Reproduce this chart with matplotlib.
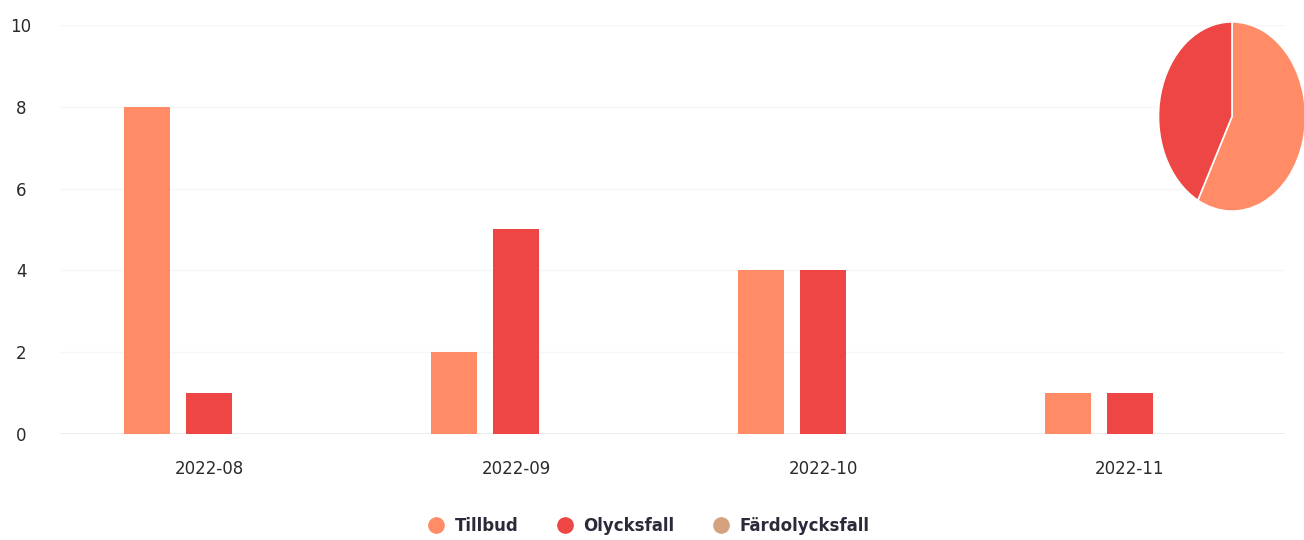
import matplotlib
matplotlib.use("Agg")
import matplotlib.pyplot as plt
import numpy as np
from matplotlib.lines import Line2D

categories = ["2022-08", "2022-09", "2022-10", "2022-11"]
series_names = ["Tillbud", "Olycksfall", "Färdolycksfall"]
tillbud = [8, 2, 4, 1]
olycksfall = [1, 5, 4, 1]
fardolycksfall = [0, 0, 0, 0]
y_ticks = [0, 2, 4, 6, 8, 10]

colors = ["#FF8C66", "#EE4545", "#D4A27E"]

W, H = 1304, 540
fig = plt.figure(figsize=(W / 100, H / 100), dpi=100)
plt.rcParams['font.family'] = ['DejaVu Sans']

# main axes: pixel 60..1285 horizontally, 25..434 vertically
ax = fig.add_axes([60 / W, (H - 434) / H, (1285 - 60) / W, (434 - 25) / H])
x = np.arange(len(categories))
bw = 0.153
off = 62 / 307
series = [tillbud, olycksfall, fardolycksfall]
for i, (vals, c) in enumerate(zip(series, colors)):
    ax.bar(x + (i - 1) * off, vals, width=bw, color=c, zorder=3)

ax.set_xlim((60 - 209) / 307, (1285 - 209) / 307)
ax.set_ylim(0, 10)
ax.set_yticks(y_ticks)
ax.set_yticklabels([str(v) for v in y_ticks])
ax.set_xticks(x)
ax.set_xticklabels(categories)
for s in ax.spines.values():
    s.set_visible(False)
ax.tick_params(axis='both', length=0, labelsize=12, colors="#2a2a2a")
ax.tick_params(axis='x', pad=19)
for lab in ax.get_yticklabels():
    lab.set_horizontalalignment('center')
ax.yaxis.set_tick_params(pad=28)
ax.grid(axis='y', color="#f6f6f6", linewidth=1, zorder=0)
ax.axhline(0, color="#e8e8e8", linewidth=1.2, zorder=1)

# pie inset (elliptical, clipped by right edge)
pax = fig.add_axes([1157 / W, (H - 213) / H, 150 / W, 193 / H])
totals = [sum(v) for v in series]
vals = [v for v in totals if v > 0]
cols = [c for v, c in zip(totals, colors) if v > 0]
pax.pie(vals, colors=cols, startangle=90, counterclock=False,
        wedgeprops=dict(edgecolor="white", linewidth=1.2))
pax.set_aspect('auto')
pax.set_xlim(-1.02, 1.02)
pax.set_ylim(-1.02, 1.02)
pax.axis('off')

handles = [Line2D([0], [0], marker='o', linestyle='none', markersize=11,
                  markerfacecolor=c, markeredgecolor=c) for c in colors]
leg = fig.legend(handles, series_names, loc='center', bbox_to_anchor=(0.497, 0.026),
                 ncol=3, frameon=False, prop=dict(size=12, weight='bold'),
                 handletextpad=0.5, columnspacing=2.2, handlelength=1.2)
for t in leg.get_texts():
    t.set_color("#2a2a3a")

fig.savefig("out.png", dpi=100)
